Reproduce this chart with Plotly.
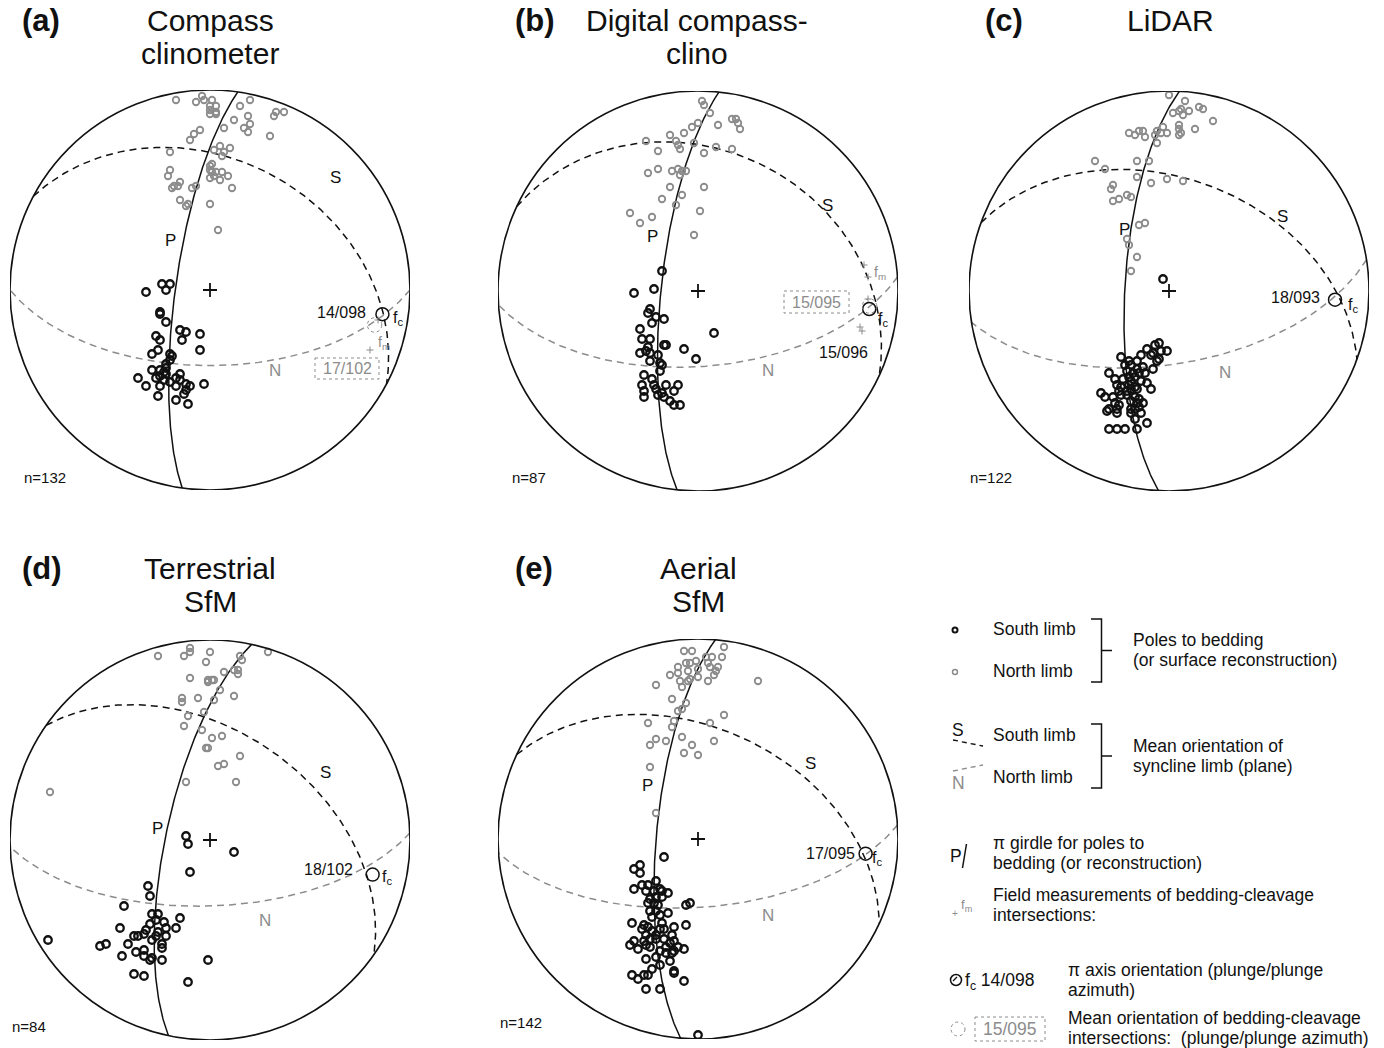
import math
import numpy as np
import plotly.graph_objects as go

W, H = 1384, 1048
OFF = 0  # page margin is removed by the post script

# ---------------- data -----------------
# Poles to bedding, equal-area lower-hemisphere projection,
# coordinates in % of net radius (east, north)
south_a = [(-24,3),(-20,3),(-22,0),(-32,-1),(-25,-11),(-25,-12),(-22,-16),(-15,-20),(-12,-21),(-14,-25),
           (-5,-22),(-27,-23),(-25,-25),(-5,-30),(-29,-32),(-26,-30),(-20,-32),(-19,-33),(-20,-35),(-22,-37),
           (-22,-39),(-29,-40),(-25,-40),(-23,-41),(-27,-44),(-25,-43),(-22,-42),(-36,-44),(-23,-45),(-20,-46),
           (-17,-44),(-15,-42),(-15,-45),(-17,-48),(-25,-48),(-32,-48),(-12,-47),(-10,-48),(-12,-50),(-3,-47),
           (-13,-52),(-26,-53),(-17,-55),(-11,-57)]
north_a = [(-17,95),(-7,94),(-4,97),(-3,95),(1,95),(0,92),(3,92),(0,90),(3,89),(0,88),(3,88),(15,92),
           (20,95),(12,85),(19,87),(33,89),(37,89),(32,87),(20,83),(17,81),(19,79),(30,77),(7,81),(-5,80),
           (-8,78),(-10,75),(-20,69),(2,70),(5,72),(10,71),(7,69),(6,67),(0,62),(1,63),(0,60),(1,59),(3,59),
           (6,59),(9,57),(0,56),(2,57),(5,55),(-20,60),(-21,57),(-15,54),(-18,52),(-16,52),(-19,51),(-9,51),
           (-7,52),(11,51),(-15,45),(-12,42),(-11,43),(0,43),(4,30)]
south_b = [(-18,10),(-32,-1),(-22,1),(-24,-9),(-25,-11),(-21,-13),(-17,-14),(-23,-16),(-29,-19),(-28,-24),
           (-24,-24),(8,-21),(-17,-27),(-16,-27),(-25,-28),(-26,-30),(-29,-31),(-24,-31),(-7,-29),(-20,-32),
           (-1,-34),(-24,-35),(-19,-36),(-18,-37),(-19,-40),(-27,-42),(-23,-44),(-28,-47),(-22,-47),(-16,-47),
           (-10,-47),(-27,-50),(-21,-49),(-18,-51),(-12,-50),(-27,-53),(-20,-52),(-17,-53),(-14,-55),(-12,-57),
           (-9,-57)]
north_b = [(2,95),(3,93),(6,89),(0,84),(-3,82),(-7,79),(-14,78),(10,83),(17,86),(19,86),(20,84),(21,81),
           (-26,75),(-11,75),(-10,73),(-9,71),(-2,74),(3,69),(9,72),(17,71),(-20,70),(-13,60),(-10,61),(-8,60),
           (-6,60),(-9,58),(-20,61),(-25,59),(-14,52),(3,52),(-8,48),(-18,46),(-11,43),(1,40),(-34,39),(-23,37),
           (-29,34),(-2,28)]
south_c = [(-3,6),(-5,-26),(-7,-27),(-11,-29),(-8,-31),(-4,-30),(-1,-30),(-9,-32),(-24,-33),(-20,-35),(-16,-35),
           (-14,-32),(-5,-34),(-6,-35),(-22,-37),(-19,-37),(-16,-39),(-13,-38),(-30,-41),(-21,-40),(-18,-41),
           (-15,-41),(-12,-41),(-8,-39),(-20,-43),(-17,-43),(-27,-44),(-23,-44),(-19,-45),(-14,-45),(-11,-46),
           (-9,-49),(-26,-47),(-24,-48),(-20,-47),(-17,-48),(-25,-50),(-21,-50),(-19,-49),(-16,-49),(-34,-51),
           (-32,-53),(-28,-53),(-24,-52),(-21,-52),(-17,-53),(-15,-54),(-27,-56),(-19,-55),(-16,-56),(-13,-56),
           (-25,-57),(-30,-59),(-31,-60),(-26,-59),(-19,-59),(-17,-59),(-15,-58),(-26,-61),(-19,-61),(-14,-61),
           (-17,-64),(-11,-66),(-30,-69),(-26,-69),(-22,-69),(-16,-69)]
north_c = [(0,98),(8,95),(2,89),(5,90),(6,91),(7,88),(10,90),(15,92),(17,91),(22,85),(5,83),(5,81),(5,78),
           (6,79),(13,81),(-20,79),(-17,78),(-15,80),(-13,80),(-12,77),(-7,78),(-6,80),(-4,79),(-3,82),(-1,79),
           (-6,74),(-16,65),(-10,65),(-37,65),(-32,61),(-16,57),(-9,54),(-1,56),(7,55),(-28,53),(-29,51),
           (-21,48),(-19,47),(-28,45),(-25,46),(-15,33),(-12,34),(-21,26),(-20,23),(-16,17),(-19,10)]
south_d = [(-12,2),(-11,-2),(12,-6),(-10,-16),(-31,-23),(-30,-28),(-43,-33),(-15,-39),(-29,-37),(-26,-37),
           (-27,-40),(-23,-41),(-30,-42),(-45,-44),(-22,-44),(-17,-44),(-32,-45),(-26,-46),(-38,-48),(-36,-48),
           (-33,-47),(-27,-48),(-22,-48),(-29,-50),(-24,-52),(-24,-54),(-55,-53),(-52,-52),(-41,-52),(-81,-50),
           (-37,-56),(-33,-55),(-44,-58),(-33,-58),(-30,-60),(-29,-59),(-24,-60),(-1,-60),(-38,-67),(-33,-68),
           (-11,-71)]
north_d = [(-26,92),(-13,92),(-10,94),(-10,96),(0,94),(-2,89),(15,92),(16,90),(29,94),(-10,81),(-1,80),(1,80),
           (2,80),(-1,79),(7,84),(12,85),(14,85),(14,83),(5,75),(12,72),(-14,71),(-14,69),(-6,71),(2,70),(-3,64),
           (-11,62),(-13,57),(-4,55),(1,51),(6,52),(-2,46),(-1,46),(15,42),(4,37),(7,38),(-12,29),(13,29),(-80,24)]
south_e = [(-17,-9),(-32,-15),(-29,-13),(-29,-17),(-21,-21),(-28,-23),(-25,-23),(-32,-25),(-26,-26),(-22,-26),
           (-19,-25),(-18,-26),(-15,-27),(-24,-30),(-21,-29),(-18,-29),(-25,-32),(-22,-32),(-20,-33),(-4,-32),
           (-6,-33),(-24,-36),(-21,-36),(-15,-37),(-19,-38),(-23,-39),(-33,-42),(-27,-43),(-25,-44),(-18,-42),
           (-12,-44),(-6,-43),(-28,-45),(-23,-46),(-19,-45),(-17,-45),(-26,-48),(-21,-48),(-13,-48),(-24,-50),
           (-21,-50),(-17,-50),(-32,-51),(-27,-51),(-34,-53),(-30,-55),(-26,-53),(-24,-54),(-14,-52),(-12,-51),
           (-16,-54),(-10,-54),(-7,-55),(-19,-56),(-16,-57),(-13,-57),(-12,-56),(-26,-60),(-21,-59),(-14,-61),
           (-19,-63),(-23,-65),(-12,-66),(-12,-67),(-33,-68),(-30,-70),(-27,-68),(-25,-68),(-7,-71),(-26,-75),
           (-19,-75),(0,-98)]
north_e = [(-7,94),(-3,94),(13,96),(12,91),(4,91),(7,91),(-6,88),(-4,88),(-1,89),(5,88),(-10,86),(-5,84),
           (0,85),(6,86),(10,86),(9,84),(-14,82),(-10,83),(8,82),(0,81),(5,79),(-9,79),(-5,79),(-4,80),(-8,76),
           (-21,77),(30,79),(-13,70),(-6,68),(-8,65),(-10,64),(13,62),(-12,59),(-13,56),(-25,58),(6,58),(-8,51),
           (-21,50),(-24,47),(-16,49),(8,49),(-3,47),(-7,43),(0,42),(-24,36),(-21,13)]

# field measurements of bedding-cleavage intersections (projected, % radius)
fm_a = [(84,-15),(80,-30)]
fm_b = [(83,13),(85,7),(85,-4),(81,-18),(82,-20)]

panel_keys = ['a', 'b', 'c', 'd', 'e']
n_counts = [132, 87, 122, 84, 142]
# pi axis (plunge / plunge azimuth)
fc_plunge = [14, 15, 18, 18, 17]
fc_trend = [98, 96, 93, 102, 95]
# mean limb planes (dip direction / dip)
s_dipdir = [28, 25, 20, 35, 25]
s_dip = [35, 30, 43, 45, 44]
n_dipdir = [180, 176, 171, 178, 176]
n_dip = [59, 59, 60, 63, 62]
# mean field bedding-cleavage intersection (panels a, b)
fmean_plunge = [17, 15]
fmean_trend = [102, 95]
fmean_panel = ['a', 'b']

south = dict(a=south_a, b=south_b, c=south_c, d=south_d, e=south_e)
north = dict(a=north_a, b=north_b, c=north_c, d=north_d, e=north_e)
fms = dict(a=fm_a, b=fm_b)

# ---------------- geometry helpers -----------------
def proj(plunge, trend):
    r = math.sqrt(2) * math.sin(math.radians(90 - plunge) / 2) * 100
    t = math.radians(trend)
    return r * math.sin(t), r * math.cos(t)


def great_circle(dipdir, dip, n=181):
    strike = math.radians(dipdir - 90)
    dd = math.radians(dipdir)
    dp = math.radians(dip)
    s = np.array([math.sin(strike), math.cos(strike), 0.0])
    d = np.array([math.sin(dd) * math.cos(dp), math.cos(dd) * math.cos(dp), math.sin(dp)])
    xs, ys = [], []
    for t in np.linspace(0, math.pi, n):
        v = math.cos(t) * s + math.sin(t) * d
        pl = math.degrees(math.asin(max(-1, min(1, v[2]))))
        tr = math.degrees(math.atan2(v[0], v[1]))
        x, y = proj(pl, tr)
        xs.append(x)
        ys.append(y)
    return xs, ys

# ---------------- layout -----------------
centers = dict(a=(210, 290), b=(698, 291), c=(1169, 291), d=(210, 840), e=(698, 839))
RPX = 200
FONT = "Arial, Liberation Sans, Helvetica, sans-serif"
BLACK = "#111111"
GREY = "#8c8c8c"

fig = go.Figure()
layout = dict(width=W, height=H, margin=dict(l=0, r=0, t=0, b=0),
              paper_bgcolor="white", plot_bgcolor="rgba(0,0,0,0)", showlegend=False,
              font=dict(family=FONT, color=BLACK))
shapes = []
annotations = []

for i, k in enumerate(panel_keys):
    ax = i + 1
    cx, cy = centers[k]
    cx -= OFF
    cy -= OFF
    xa = 'xaxis' if ax == 1 else f'xaxis{ax}'
    ya = 'yaxis' if ax == 1 else f'yaxis{ax}'
    xr = 'x' if ax == 1 else f'x{ax}'
    yr = 'y' if ax == 1 else f'y{ax}'
    layout[xa] = dict(domain=[(cx - RPX) / W, (cx + RPX) / W], range=[-100, 100],
                      visible=False, fixedrange=True)
    layout[ya] = dict(domain=[1 - (cy + RPX) / H, 1 - (cy - RPX) / H], range=[-100, 100],
                      visible=False, fixedrange=True)
    # primitive
    shapes.append(dict(type='circle', xref=xr, yref=yr, x0=-100, y0=-100, x1=100, y1=100,
                       line=dict(color=BLACK, width=1.6)))
    # N limb plane
    gx, gy = great_circle(n_dipdir[i], n_dip[i])
    fig.add_trace(go.Scatter(x=gx, y=gy, mode='lines', xaxis=xr, yaxis=yr,
                             line=dict(color=GREY, width=1.5, dash='7px,5px'), hoverinfo='skip'))
    # S limb plane
    gx, gy = great_circle(s_dipdir[i], s_dip[i])
    fig.add_trace(go.Scatter(x=gx, y=gy, mode='lines', xaxis=xr, yaxis=yr,
                             line=dict(color=BLACK, width=1.5, dash='7px,5px'), hoverinfo='skip'))
    # pi girdle (plane normal to pi axis)
    gx, gy = great_circle((fc_trend[i] + 180) % 360, 90 - fc_plunge[i])
    fig.add_trace(go.Scatter(x=gx, y=gy, mode='lines', xaxis=xr, yaxis=yr,
                             line=dict(color=BLACK, width=1.5), hoverinfo='skip'))
    # north limb poles
    pts = north[k]
    fig.add_trace(go.Scatter(x=[p[0] for p in pts], y=[p[1] for p in pts], mode='markers',
                             xaxis=xr, yaxis=yr,
                             marker=dict(symbol='circle-open', size=6.5, color=GREY,
                                         line=dict(width=1.8, color=GREY))))
    # south limb poles
    pts = south[k]
    fig.add_trace(go.Scatter(x=[p[0] for p in pts], y=[p[1] for p in pts], mode='markers',
                             xaxis=xr, yaxis=yr,
                             marker=dict(symbol='circle-open', size=7.5, color=BLACK,
                                         line=dict(width=2.3, color=BLACK))))
    # centre cross
    fig.add_trace(go.Scatter(x=[0], y=[0], mode='markers', xaxis=xr, yaxis=yr,
                             marker=dict(symbol='cross-thin', size=10, color=BLACK,
                                         line=dict(width=1.8, color=BLACK))))
    # field measurements
    if k in fms:
        pts = fms[k]
        fig.add_trace(go.Scatter(x=[p[0] for p in pts], y=[p[1] for p in pts], mode='markers',
                                 xaxis=xr, yaxis=yr,
                                 marker=dict(symbol='cross-thin', size=5, color=GREY,
                                             line=dict(width=1, color=GREY))))
    # mean field intersection (dotted circle)
    if k in fmean_panel:
        j = fmean_panel.index(k)
        mx, my = proj(fmean_plunge[j], fmean_trend[j])
        shapes.append(dict(type='circle', xref=xr, yref=yr, x0=mx - 3.6, x1=mx + 3.6,
                           y0=my - 3.6, y1=my + 3.6, line=dict(color=GREY, width=1, dash='dot')))
    # pi axis
    fx, fy = proj(fc_plunge[i], fc_trend[i])
    fig.add_trace(go.Scatter(x=[fx], y=[fy], mode='markers', xaxis=xr, yaxis=yr,
                             marker=dict(symbol='circle-open', size=13, color=BLACK,
                                         line=dict(width=1.5, color=BLACK))))

# overlay axis in page-pixel units for labels and the key
layout['xaxis6'] = dict(domain=[0, 1], range=[OFF, W + OFF], visible=False, fixedrange=True)
layout['yaxis6'] = dict(domain=[0, 1], range=[H + OFF, OFF], visible=False, fixedrange=True)


def ann(x, y, text, size=17, color=BLACK, xanchor='center', yanchor='middle', bold=False):
    if bold:
        text = f"<b>{text}</b>"
    annotations.append(dict(x=x, y=y, xref='x6', yref='y6', text=text, showarrow=False,
                            xanchor=xanchor, yanchor=yanchor,
                            font=dict(size=size, color=color, family=FONT)))


def pix_line(xs, ys, color=BLACK, width=1.5, dash='solid'):
    fig.add_trace(go.Scatter(x=xs, y=ys, mode='lines', xaxis='x6', yaxis='y6',
                             line=dict(color=color, width=width, dash=dash), hoverinfo='skip'))


def rect(x0, y0, x1, y1):
    shapes.append(dict(type='rect', xref='x6', yref='y6', x0=x0, y0=y0, x1=x1, y1=y1,
                       line=dict(color=GREY, width=1, dash='dot')))

# titles
TS = 30
LT = 31
ann(20, 20, "(a)", LT, xanchor='left', bold=True)
ann(210, 20, "Compass", TS)
ann(210, 53, "clinometer", TS)
ann(513, 20, "(b)", LT, xanchor='left', bold=True)
ann(697, 20, "Digital compass-", TS)
ann(697, 53, "clino", TS)
ann(983, 20, "(c)", LT, xanchor='left', bold=True)
ann(1170, 20, "LiDAR", TS)
ann(20, 568, "(d)", LT, xanchor='left', bold=True)
ann(210, 568, "Terrestrial", TS)
ann(210, 601, "SfM", TS)
ann(513, 568, "(e)", LT, xanchor='left', bold=True)
ann(698, 568, "Aerial", TS)
ann(698, 601, "SfM", TS)

# panel labels
LS = 17
FCS = 16
# (a)
ann(170, 240, "P", LS); ann(335, 177, "S", LS); ann(275, 370, "N", LS, GREY)
ann(368, 312, "14/098", FCS, xanchor='right')
ann(391, 318, "f<sub>c</sub>", FCS, xanchor='left')
ann(376, 343, "f<sub>m</sub>", 14, GREY, xanchor='left')
rect(315, 358, 379, 379); ann(347, 368.5, "17/102", FCS, GREY)
ann(22, 477, "n=132", 15, xanchor='left')
# (b)
ann(652, 236, "P", LS); ann(827, 205, "S", LS); ann(768, 370, "N", LS, GREY)
ann(872, 273, "f<sub>m</sub>", 14, GREY, xanchor='left')
rect(784, 291, 849, 313); ann(816, 302, "15/095", FCS, GREY)
ann(876, 319, "f<sub>c</sub>", FCS, xanchor='left')
ann(843, 352, "15/096", FCS)
ann(510, 477, "n=87", 15, xanchor='left')
# (c)
ann(1124, 229, "P", LS); ann(1282, 216, "S", LS); ann(1225, 372, "N", LS, GREY)
ann(1322, 297, "18/093", FCS, xanchor='right')
ann(1346, 305, "f<sub>c</sub>", FCS, xanchor='left')
ann(968, 477, "n=122", 15, xanchor='left')
# (d)
ann(157, 828, "P", LS); ann(325, 772, "S", LS); ann(265, 920, "N", LS, GREY)
ann(355, 869, "18/102", FCS, xanchor='right')
ann(380, 877, "f<sub>c</sub>", FCS, xanchor='left')
ann(10, 1026, "n=84", 15, xanchor='left')
# (e)
ann(647, 785, "P", LS); ann(810, 763, "S", LS); ann(768, 915, "N", LS, GREY)
ann(857, 853, "17/095", FCS, xanchor='right')
ann(870, 858, "f<sub>c</sub>", FCS, xanchor='left')
ann(498, 1022, "n=142", 15, xanchor='left')

# ---------------- key -----------------
KS = 17.5
fig.add_trace(go.Scatter(x=[955], y=[630], mode='markers', xaxis='x6', yaxis='y6',
                         marker=dict(symbol='circle-open', size=5, color=BLACK,
                                     line=dict(width=2, color=BLACK))))
fig.add_trace(go.Scatter(x=[955], y=[672], mode='markers', xaxis='x6', yaxis='y6',
                         marker=dict(symbol='circle-open', size=5, color=GREY,
                                     line=dict(width=1.5, color=GREY))))
ann(991, 629, "South limb", KS, xanchor='left')
ann(991, 671, "North limb", KS, xanchor='left')
pix_line([1091, 1101.5, 1101.5, 1091], [619, 619, 682, 682])
pix_line([1101.5, 1112], [650.5, 650.5])
ann(1131, 640, "Poles to bedding", KS, xanchor='left')
ann(1131, 660, "(or surface reconstruction)", KS, xanchor='left')

ann(958, 730, "S", KS)
pix_line([953, 983], [740, 746], BLACK, 1.3, '5px,4px')
pix_line([953, 983], [771, 765], GREY, 1.3, '5px,4px')
ann(958, 783, "N", KS, GREY)
ann(991, 735, "South limb", KS, xanchor='left')
ann(991, 777, "North limb", KS, xanchor='left')
pix_line([1091, 1101.5, 1101.5, 1091], [724, 724, 788, 788])
pix_line([1101.5, 1112], [756, 756])
ann(1131, 746, "Mean orientation of", KS, xanchor='left')
ann(1131, 766, "syncline limb (plane)", KS, xanchor='left')

ann(956, 856, "P", KS)
pix_line([966.5, 962.5], [844, 868])
ann(991, 843, "π girdle for poles to", KS, xanchor='left')
ann(991, 863, "bedding (or reconstruction)", KS, xanchor='left')

ann(955, 913, "+", 10, GREY)
ann(959, 905, "f<sub>m</sub>", 13, GREY, xanchor='left')
ann(991, 895, "Field measurements of bedding-cleavage", KS, xanchor='left')
ann(991, 915, "intersections:", KS, xanchor='left')

fig.add_trace(go.Scatter(x=[956], y=[980], mode='markers', xaxis='x6', yaxis='y6',
                         marker=dict(symbol='circle-open', size=11, color=BLACK,
                                     line=dict(width=1.5, color=BLACK))))
pix_line([953, 957], [981, 977], BLACK, 1.2)
ann(963, 981, "f<sub>c</sub> 14/098", KS, xanchor='left')
ann(1066, 970, "π axis orientation (plunge/plunge", KS, xanchor='left')
ann(1066, 990, "azimuth)", KS, xanchor='left')

shapes.append(dict(type='circle', xref='x6', yref='y6', x0=951, x1=965, y0=1022, y1=1036,
                   line=dict(color=GREY, width=1, dash='dot')))
rect(975, 1017, 1045, 1041)
ann(1010, 1029, "15/095", KS, GREY)
ann(1066, 1018, "Mean orientation of bedding-cleavage", KS, xanchor='left')
ann(1066, 1038, "intersections:  (plunge/plunge azimuth)", KS, xanchor='left')

layout['shapes'] = shapes
layout['annotations'] = annotations
fig.update_layout(**layout)
fig.write_html("out.html", config={'displayModeBar': False},
               post_script="document.body.style.margin='0';document.body.style.overflow='hidden';")
